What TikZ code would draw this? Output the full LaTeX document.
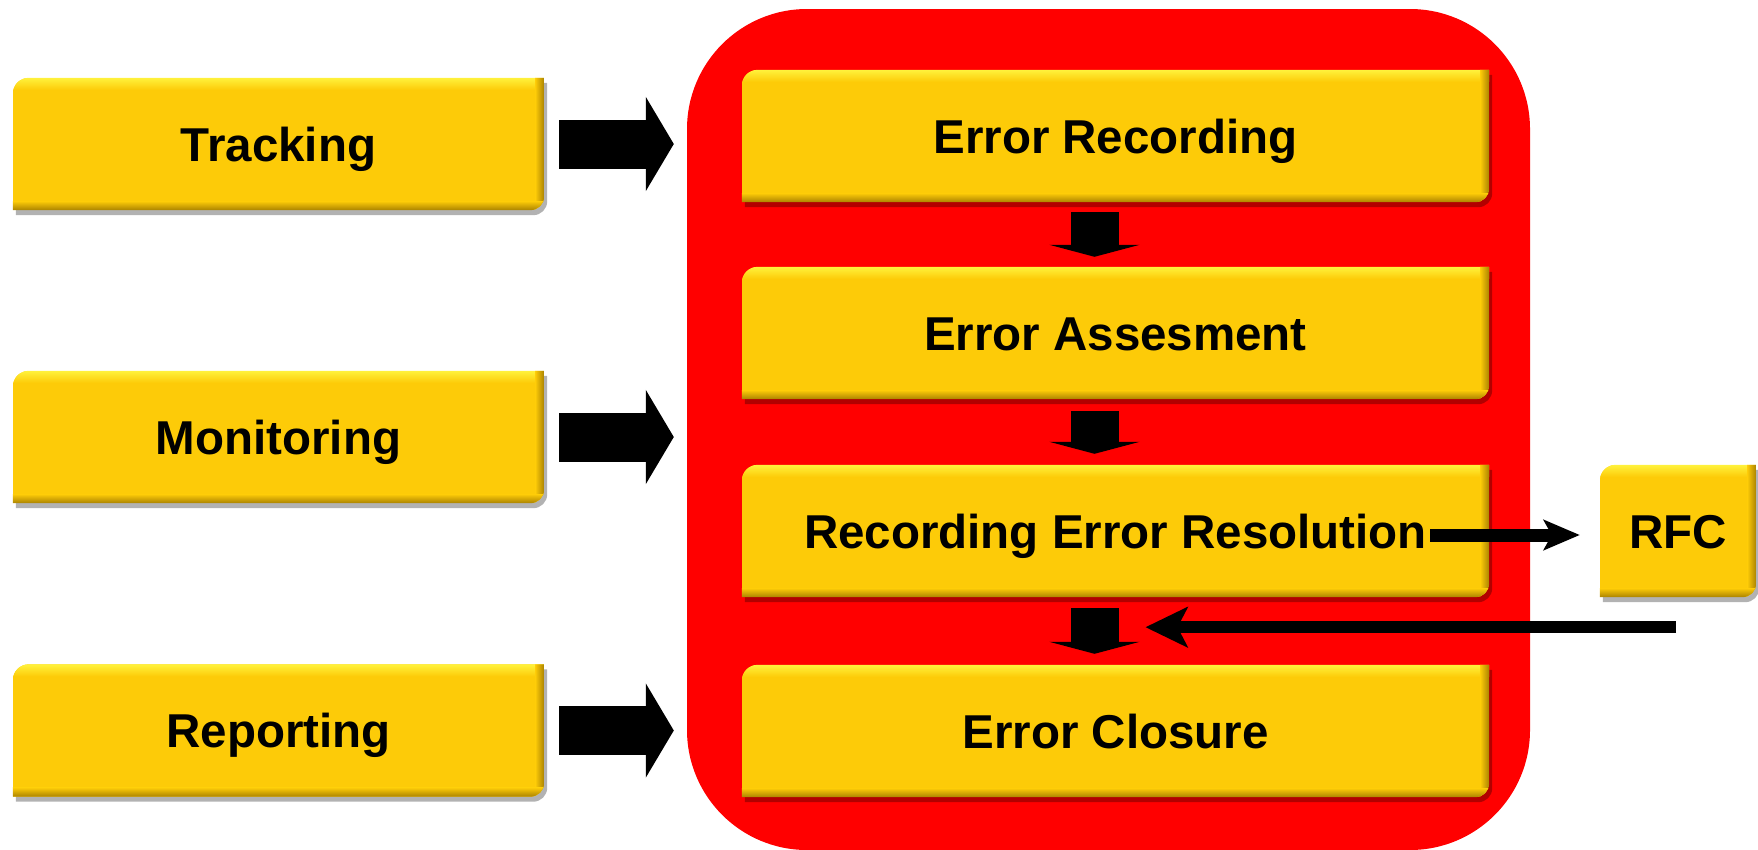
\documentclass[tikz,border=0pt]{standalone}
\usepackage{fontspec}
\setmainfont{Liberation Sans}
\usetikzlibrary{arrows.meta,calc,backgrounds}

\definecolor{gold}{RGB}{253,203,8}
\definecolor{goldhi}{RGB}{255,242,60}
\definecolor{golddk}{RGB}{170,130,0}
\definecolor{redbg}{RGB}{255,0,0}

\newcommand\boxshape[1]{($(#1.south west)$) -- ($(#1.north west)+(0pt,-16pt)$) arc[start angle=180,end angle=90,radius=16pt] -- (#1.north east) -- ($(#1.south east)+(0pt,14pt)$) arc[start angle=0,end angle=-90,radius=14pt] -- cycle}

\newcommand\goldbox[1]{%
  \fill[black,opacity=0.3,transform canvas={shift={(3pt,-5pt)}}] \boxshape{#1};
  \begin{scope}
    \clip \boxshape{#1};
    \fill[gold] (#1.south west) rectangle (#1.north east);
    \shade[top color=goldhi,bottom color=gold] (#1.north west) rectangle ($(#1.north east)+(0pt,-12pt)$);
    \shade[left color=gold,right color=golddk] ($(#1.south east)+(-9pt,0pt)$) rectangle (#1.north east);
    \shade[top color=gold,bottom color=golddk] ($(#1.south west)+(0pt,9pt)$) rectangle (#1.south east);
  \end{scope}}

\tikzset{
  txt/.style={font=\fontsize{47.5}{50}\selectfont\bfseries, text=black, text height=34pt, text depth=0pt, inner sep=0pt, minimum height=132pt},
  leftbox/.style={txt, minimum width=531pt},
  procbox/.style={txt, minimum width=747pt},
  rfcbox/.style={txt, minimum width=156pt},
  fatR/.style={line width=49pt, -{Triangle[length=28pt,width=93pt]}, black},
  fatD/.style={line width=48pt, -{Triangle[length=12pt,width=90pt]}, black},
  thinR/.style={line width=13pt, -{Stealth[length=36pt,width=30pt,inset=8pt]}, black},
  backL/.style={line width=12pt, -{Stealth[length=42pt,width=40pt,inset=10pt]}, black},
}

\begin{document}
\begin{tikzpicture}[x=1pt,y=1pt]
\useasboundingbox (0,0) rectangle (1758,-849);

\node[leftbox] (track) at (278.5,-144) {Tracking};
\node[leftbox] (mon) at (278.5,-437) {Monitoring};
\node[leftbox] (rep) at (278.5,-730.5) {Reporting};

\node[procbox] (rec) at (1115.5,-136) {Error Recording};
\node[procbox] (ass) at (1115.5,-333) {Error Assesment};
\node[procbox] (res) at (1115.5,-531) {Recording Error Resolution};
\node[procbox] (clo) at (1115.5,-731) {Error Closure};

\node[rfcbox] (rfc) at (1678,-531) {RFC};

\begin{scope}[on background layer]
  \node[fill=redbg, rounded corners=120pt, minimum width=843pt, minimum height=841pt, inner sep=0pt] (proc) at (1108.5,-429.5) {};
  \foreach \b in {track,mon,rep,rec,ass,res,clo,rfc} {\goldbox{\b}}
\end{scope}

% inputs into the process
\draw[fatR] ($(track.east)+(15,0)$) -- ($(track.east -| proc.west)+(-13,0)$);
\draw[fatR] ($(mon.east)+(15,0)$) -- ($(mon.east -| proc.west)+(-13,0)$);
\draw[fatR] ($(rep.east)+(15,0)$) -- ($(rep.east -| proc.west)+(-13,0)$);

% process steps
\draw[fatD] ($(rec.south)+(-21,-10)$) -- ($(ass.north)+(-21,10)$);
\draw[fatD] ($(ass.south)+(-21,-12)$) -- ($(res.north)+(-21,11)$);
\draw[fatD] ($(res.south)+(-21,-11)$) -- ($(clo.north)+(-21,11)$);

% RFC loop
\draw[thinR] ($(res.east)+(-59,-4)$) -- ($(rfc.west)+(-20,-4)$);
\coordinate (fb) at ($(rfc.south)+(-2,-30)$);
\coordinate (bt) at ($(res.south)+(30,-30)$);
\draw[backL] (fb) -- (bt);
\end{tikzpicture}
\end{document}
